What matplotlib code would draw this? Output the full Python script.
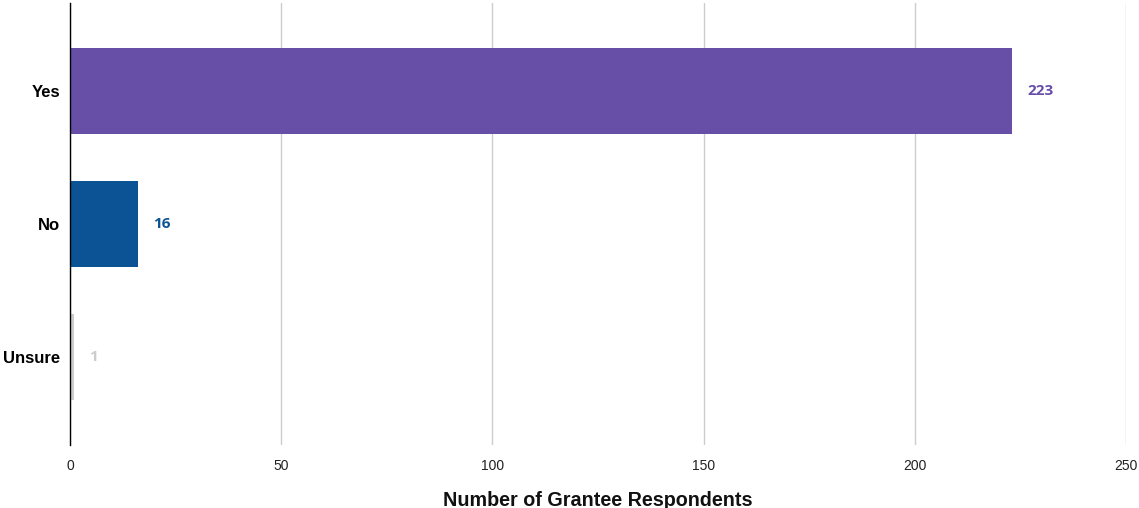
import matplotlib
matplotlib.use("Agg")
import matplotlib.pyplot as plt

# Survey answers and counts
categories = ["Yes", "No", "Unsure"]
counts = [223, 16, 1]
bar_colors = ["#674ea7", "#0b5394", "#cccccc"]
x_ticks = [0, 50, 100, 150, 200, 250]

plt.rcParams['font.family'] = ['Liberation Sans', 'DejaVu Sans']

fig = plt.figure(figsize=(11.39, 5.08), dpi=100)
ax = fig.add_axes([70 / 1139, 63 / 508, 1056 / 1139, 442 / 508])

y_pos = list(range(len(categories)))
ax.barh(y_pos, counts, height=0.64, color=bar_colors, zorder=3)

# value labels next to each bar
for y, value, color in zip(y_pos, counts, bar_colors):
    ax.text(value + 3.6, y, str(value), va="center", ha="left",
            fontsize=11, fontweight="bold", color=color,
            family=["Open Sans", "DejaVu Sans"])

ax.set_xlim(0, 250)
ax.set_ylim(2.662, -0.662)
ax.set_xticks(x_ticks)
ax.set_xticklabels([str(t) for t in x_ticks], fontsize=10, color="#222222")
ax.set_yticks(y_pos)
ax.set_yticklabels(categories, fontsize=12, fontweight="bold", color="#000000")
ax.tick_params(axis="both", length=0)
ax.tick_params(axis="x", pad=10)
ax.tick_params(axis="y", pad=7)

ax.grid(axis="x", color="#cccccc", linewidth=1, zorder=0)
for side in ["top", "right", "bottom"]:
    ax.spines[side].set_visible(False)
ax.spines["left"].set_color("#000000")
ax.spines["left"].set_linewidth(1)
ax.spines["left"].set_zorder(4)

ax.set_xlabel("Number of Grantee Respondents", fontsize=14.2, fontweight="bold",
              color="#111111", labelpad=13)

fig.savefig("out.png", dpi=100)
